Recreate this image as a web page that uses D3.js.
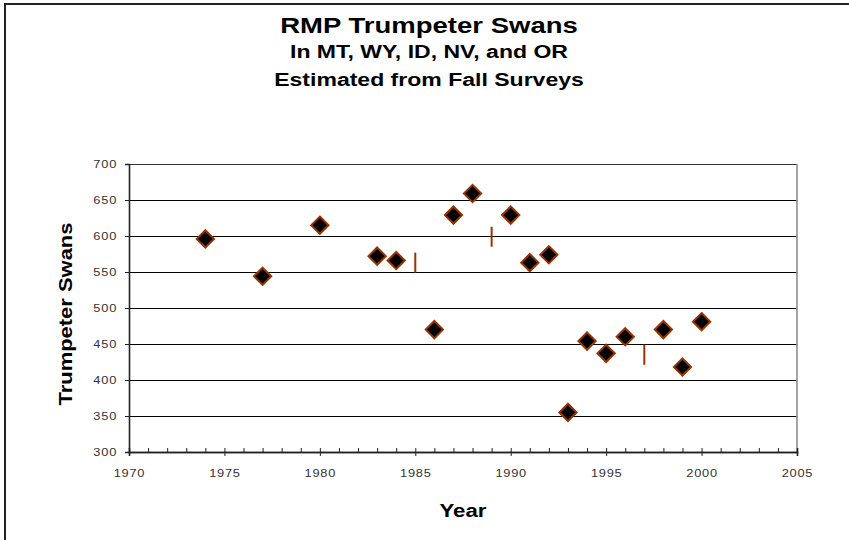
<!DOCTYPE html>
<html>
<head>
<meta charset="utf-8">
<script src="https://cdn.jsdelivr.net/npm/d3@7"></script>
<style>
  body { margin: 0; background: #fff; }
  text { font-family: Arial, "Liberation Sans", sans-serif; }
</style>
</head>
<body>
<svg id="chart" width="849" height="540"></svg>
<script>
// Fall survey estimates (diamonds)
const years = [1974, 1977, 1980, 1983, 1984, 1986, 1987, 1988, 1990, 1991, 1992, 1993, 1994, 1995, 1996, 1998, 1999, 2000];
const swans = [596, 544, 615, 572, 566, 470, 629, 659, 629, 563, 574, 355, 454, 437, 460, 470, 418, 481];
// second series drawn as short vertical bars
const barYears = [1985, 1989, 1997];
const barValues = [563, 599, 435];

const yTicks = [300, 350, 400, 450, 500, 550, 600, 650, 700];
const xMajor = [1970, 1975, 1980, 1985, 1990, 1995, 2000, 2005];
const xMinor = d3.range(1970, 2006);
const titleLines = ['RMP Trumpeter Swans', 'In MT, WY, ID, NV, and OR', 'Estimated from Fall Surveys'];

const plot = { left: 129, right: 797, top: 164, bottom: 452 };
const stretch = 1.28; // text in the original is wide
const markerColor = '#993300';

const svg = d3.select('#chart');

// outer frame (runs off the right and bottom edge)
svg.append('rect')
  .attr('x', 5).attr('y', 4).attr('width', 900).attr('height', 600)
  .attr('fill', 'none').attr('stroke', '#222').attr('stroke-width', 2);

// Set scales
const x = d3.scaleLinear().domain([1970, 2005]).range([plot.left, plot.right]);
const y = d3.scaleLinear().domain([300, 700]).range([plot.bottom, plot.top]);

// gridlines
svg.append('g')
  .selectAll('line')
  .data(yTicks.slice(1))
  .join('line')
  .attr('x1', plot.left).attr('x2', plot.right)
  .attr('y1', (d) => Math.round(y(d)) + 0.5).attr('y2', (d) => Math.round(y(d)) + 0.5)
  .attr('stroke', (d) => (d === 700 ? '#333' : '#000'))
  .attr('stroke-width', 1);

// right border of plot area
svg.append('line')
  .attr('x1', plot.right).attr('x2', plot.right)
  .attr('y1', plot.top).attr('y2', plot.bottom)
  .attr('stroke', '#888').attr('stroke-width', 1.5);

// Y axis
const yAxis = svg.append('g')
  .attr('transform', `translate(${plot.left},0)`)
  .call(d3.axisLeft(y).tickValues(yTicks).tickSize(4).tickPadding(8));
yAxis.selectAll('text')
  .attr('font-size', 10).attr('fill', '#333').attr('letter-spacing', 0.6)
  .attr('x', -12 / stretch)
  .attr('transform', `scale(${stretch},1)`);

// X axis: minor ticks upward, major ticks crossing
svg.append('g')
  .attr('transform', `translate(0,${plot.bottom})`)
  .call(d3.axisBottom(x).tickValues(xMinor).tickSize(-4).tickFormat(''));
const xAxis = svg.append('g')
  .attr('transform', `translate(0,${plot.bottom})`)
  .call(d3.axisBottom(x).tickValues(xMajor).tickSize(4).tickPadding(14).tickFormat(d3.format('d')));
xAxis.selectAll('text')
  .attr('font-size', 10).attr('fill', '#333').attr('letter-spacing', 0.6)
  .attr('transform', `scale(${stretch},1)`);

svg.selectAll('.domain').attr('stroke', '#222').attr('stroke-width', 1.6);
svg.selectAll('.tick line').attr('stroke', '#222');

// vertical bar markers
svg.append('g')
  .selectAll('line')
  .data(barYears)
  .join('line')
  .attr('x1', (d) => x(d)).attr('x2', (d) => x(d))
  .attr('y1', (d, i) => y(barValues[i]) - 10)
  .attr('y2', (d, i) => y(barValues[i]) + 10)
  .attr('stroke', markerColor).attr('stroke-width', 2);

// diamonds
const diamond = d3.symbol().type(d3.symbolDiamond2).size(190);
svg.append('g')
  .selectAll('path')
  .data(years)
  .join('path')
  .attr('d', diamond)
  .attr('transform', (d, i) => `translate(${x(d)},${y(swans[i])})`)
  .attr('fill', '#000')
  .attr('stroke', markerColor)
  .attr('stroke-width', 2);

// titles
const titleSizes = [21.5, 18, 18];
const titleY = [33, 57.5, 86];
svg.append('g')
  .selectAll('text')
  .data(titleLines)
  .join('text')
  .attr('transform', (d, i) => `translate(429,${titleY[i]}) scale(${stretch},1)`)
  .attr('text-anchor', 'middle')
  .attr('font-weight', 'bold')
  .attr('font-size', (d, i) => titleSizes[i])
  .text((d) => d);

// axis titles
svg.append('text')
  .attr('transform', 'translate(463,517) scale(1.17,1)')
  .attr('text-anchor', 'middle')
  .attr('font-weight', 'bold').attr('font-size', 19)
  .text('Year');

svg.append('text')
  .attr('transform', 'translate(72,314) rotate(-90) scale(1.22,1)')
  .attr('text-anchor', 'middle')
  .attr('font-weight', 'bold').attr('font-size', 18)
  .text('Trumpeter Swans');
</script>
</body>
</html>
